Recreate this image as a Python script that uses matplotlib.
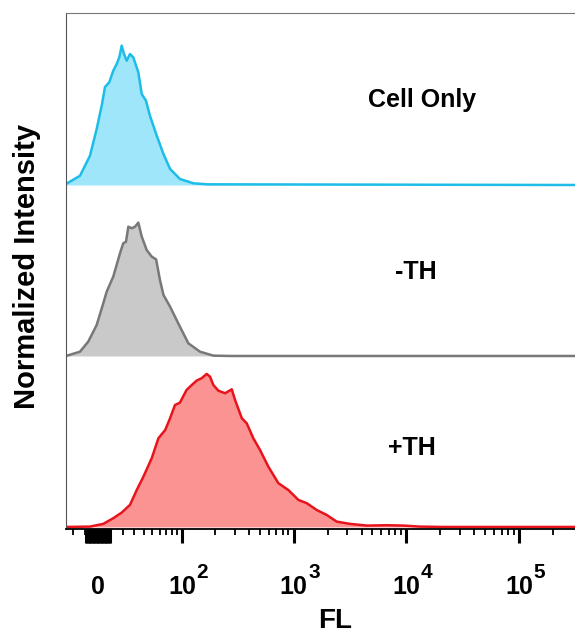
import numpy as np
import matplotlib
matplotlib.use("Agg")
import matplotlib.pyplot as plt
from matplotlib.ticker import FixedLocator
from matplotlib.transforms import offset_copy

# FL values (data units) and normalized heights
cell_x = [-25.9, -13.9, -6.1, -1.0, 2.8, 5.3, 8.6, 11.7, 14.5, 16.6, 18.6, 20.6, 22.9,
          25.9, 29.0, 34.0, 37.6, 42.3, 47.0, 55.8, 65.5, 76.3, 95, 127, 168, 311700]
cell_y = [0.006, 0.054, 0.171, 0.327, 0.464, 0.573, 0.601, 0.668, 0.708, 0.747, 0.815,
          0.766, 0.727, 0.766, 0.747, 0.659, 0.532, 0.493, 0.405, 0.288, 0.181, 0.094,
          0.035, 0.010, 0.004, 0.0]

minus_x = [-25.9, -13.9, -7.4, -1.0, 4.0, 6.6, 11.7, 17.2, 19.9, 22.3, 24.4, 27.5, 30.7,
           34.0, 37.6, 43.1, 49.2, 54.9, 60.3, 65.5, 76.3, 95, 114, 146, 193, 272, 311700]
minus_y = [0.0, 0.025, 0.084, 0.181, 0.308, 0.376, 0.464, 0.601, 0.659, 0.668, 0.756,
           0.747, 0.756, 0.780, 0.698, 0.620, 0.581, 0.565, 0.444, 0.357, 0.288, 0.171,
           0.074, 0.025, 0.002, 0.0, 0.0]

plus_x = [-25.9, -6.1, 4.0, 11.7, 18.6, 25.9, 32.4, 39.4, 49.2, 58.1, 68.2, 76.3, 85.1,
          95, 109.6, 122.5, 136, 151, 168, 180, 193, 214, 246, 282, 302, 347, 384, 439,
          504, 597, 733, 899, 1103, 1309, 1605, 1969, 2414, 3168, 4454, 6700, 9400,
          13200, 21300, 311700]
plus_y = [0.0, 0.002, 0.018, 0.051, 0.084, 0.129, 0.216, 0.294, 0.402, 0.519, 0.567,
          0.636, 0.713, 0.727, 0.801, 0.830, 0.856, 0.870, 0.895, 0.879, 0.830, 0.797,
          0.782, 0.805, 0.743, 0.636, 0.606, 0.519, 0.450, 0.353, 0.256, 0.216, 0.158,
          0.139, 0.099, 0.070, 0.031, 0.018, 0.008, 0.010, 0.008, 0.002, 0.0, 0.0]

labels = ["Cell Only", "-TH", "+TH"]
decades = [100, 1000, 10000, 100000]
major_ticks = list(range(-9, 10)) + decades
minor_ticks = [-20, -10] + [k * 10 ** n for n in range(1, 5) for k in range(1, 10)
                            if k > 1 or n == 1] + [200000]
minor_ticks = [t for t in minor_ticks if t not in major_ticks]

plt.rcParams["font.family"] = "Liberation Sans"
plt.rcParams["font.weight"] = "bold"
plt.rcParams["axes.labelweight"] = "bold"

fig = plt.figure(figsize=(5.75, 6.34), dpi=100)
ax = fig.add_axes([66 / 575, 105 / 634, 509 / 575, 516 / 634])

w = 37.0
ax.set_xscale("function", functions=(lambda x: np.arcsinh(np.asarray(x) / w),
                                     lambda y: w * np.sinh(np.asarray(y))))

series = [
    (cell_x, cell_y, 2, "#1DBDE8", "#9FE6FA"),
    (minus_x, minus_y, 1, "#787878", "#C9C9C9"),
    (plus_x, plus_y, 0, "#E8141C", "#FC9393"),
]
for xs, ys, off, lc, fc in series:
    xs = np.array(xs)
    ys = np.array(ys) + off
    ax.fill_between(xs, off, ys, color=fc, lw=0)
    ax.plot(xs, ys, color=lc, lw=1.8)

ax.set_xlim(-25.9, 311700)
ax.set_ylim(-0.012, 3.006)

ax.text(0.699, 0.831, labels[0], transform=ax.transAxes, ha="center", va="center", fontsize=18)
ax.text(0.688, 0.498, labels[1], transform=ax.transAxes, ha="center", va="center", fontsize=18)
ax.text(0.680, 0.157, labels[2], transform=ax.transAxes, ha="center", va="center", fontsize=18)

ax.xaxis.set_major_locator(FixedLocator(major_ticks))
ax.xaxis.set_minor_locator(FixedLocator(minor_ticks))
tick_text = []
for t in major_ticks:
    if t == 0:
        tick_text.append("0")
    elif t in decades:
        tick_text.append("10")
    else:
        tick_text.append("")
ax.tick_params(axis="x", which="major", direction="out", length=10, width=2.2, pad=37)
ax.tick_params(axis="x", which="minor", direction="out", length=4.5, width=1.3)
ax.set_xticklabels(tick_text, fontsize=18, fontweight="bold", va="baseline")
ax.set_yticks([])

# exponents of the decade labels
exp_tr = offset_copy(ax.get_xaxis_transform(), fig=fig, x=10.4, y=0, units="points")
for t in decades:
    ax.text(t, -0.095, str(int(round(np.log10(t)))), transform=exp_tr,
            ha="left", va="baseline", fontsize=15, clip_on=False)

ax.spines["right"].set_visible(False)
ax.spines["top"].set_color("#777777")
ax.spines["left"].set_color("#555555")
ax.spines["bottom"].set_linewidth(1.3)

ax.set_xlabel("FL", fontsize=20, fontweight="bold", va="center")
ax.xaxis.set_label_coords(0.528, -0.178)
fig.text(27 / 575, 1 - 266 / 634, "Normalized Intensity", rotation=90,
         ha="center", va="center", fontsize=21)

plt.savefig("out.png", dpi=100)
